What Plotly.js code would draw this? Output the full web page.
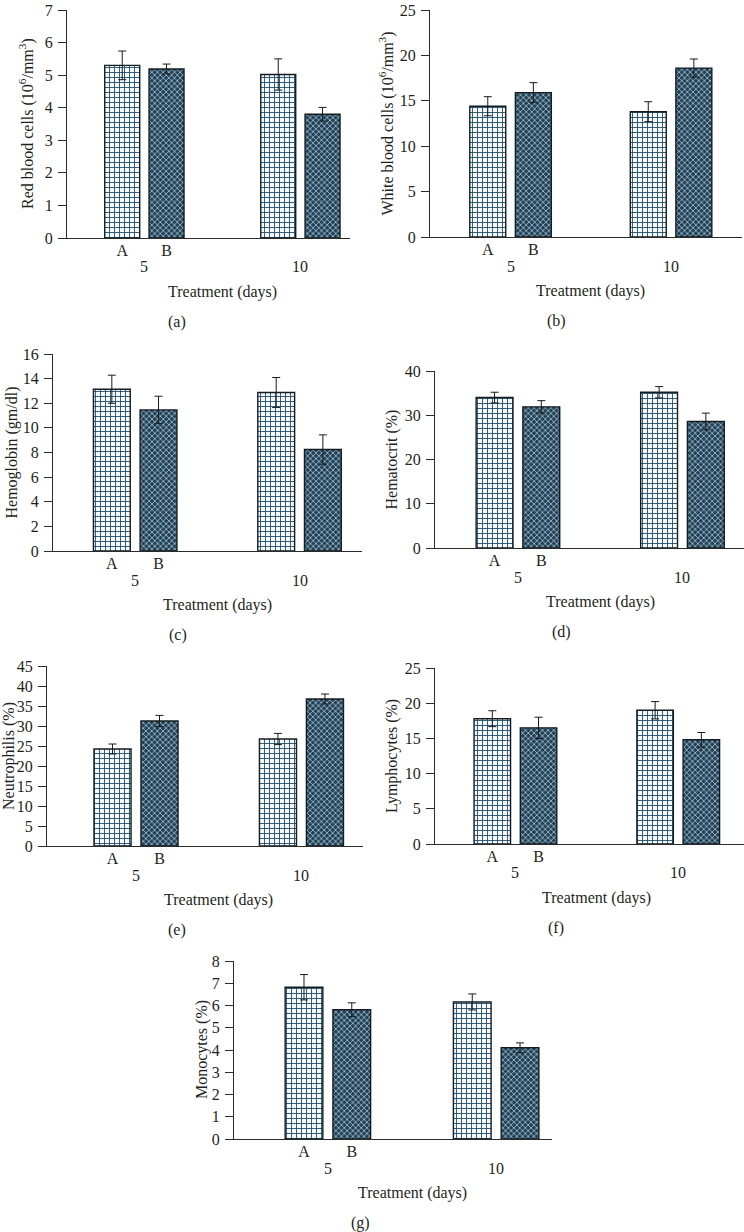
<!DOCTYPE html>
<html><head><meta charset="utf-8">
<script src="https://cdn.plot.ly/plotly-3.0.1.min.js"></script>
<style>html,body{margin:0;padding:0;background:#fff}#chart{width:744px;height:1232px}</style>
</head><body><div id="chart"></div>
<script>
// ---------- data ----------
const days = [5, 10];
const groupLabels = ['A', 'B'];
const dayLabels = ['5', '10'];
const xTitle = 'Treatment (days)';

const rbcA = [5.30, 5.02], rbcAErr = [0.44, 0.48];
const rbcB = [5.19, 3.80], rbcBErr = [0.15, 0.21];
const wbcA = [14.4, 13.8], wbcAErr = [1.05, 1.10];
const wbcB = [15.9, 18.6], wbcBErr = [1.10, 1.00];
const hbA = [13.14, 12.87], hbAErr = [1.14, 1.22];
const hbB = [11.46, 8.24], hbBErr = [1.11, 1.19];
const hctA = [34.0, 35.2], hctAErr = [1.20, 1.28];
const hctB = [31.9, 28.6], hctBErr = [1.40, 1.88];
const neutA = [24.25, 26.75], neutAErr = [1.25, 1.40];
const neutB = [31.25, 36.75], neutBErr = [1.40, 1.25];
const lymA = [17.8, 19.0], lymAErr = [1.13, 1.23];
const lymB = [16.5, 14.8], lymBErr = [1.51, 1.04];
const monoA = [6.82, 6.16], monoAErr = [0.57, 0.36];
const monoB = [5.81, 4.10], monoBErr = [0.31, 0.22];

const yTitles = [
  'Red blood cells (10<sup>6</sup>/mm<sup>3</sup>)',
  'White blood cells (10<sup>6</sup>/mm<sup>3</sup>)',
  'Hemoglobin (gm/dl)',
  'Hematocrit (%)',
  'Neutrophilis (%)',
  'Lymphocytes (%)',
  'Monocytes (%)'
];
const panelLetters = ['(a)', '(b)', '(c)', '(d)', '(e)', '(f)', '(g)'];
const yMax = [7, 25, 16, 40, 45, 25, 8];
const yDtick = [1, 5, 2, 10, 5, 5, 1];

const seriesA = [rbcA, wbcA, hbA, hctA, neutA, lymA, monoA];
const seriesAErr = [rbcAErr, wbcAErr, hbAErr, hctAErr, neutAErr, lymAErr, monoAErr];
const seriesB = [rbcB, wbcB, hbB, hctB, neutB, lymB, monoB];
const seriesBErr = [rbcBErr, wbcBErr, hbBErr, hctBErr, neutBErr, lymBErr, monoBErr];

// ---------- layout geometry (pixels) ----------
const W = 744, H = 1232;
const geom = [
  {x0: 67,  x1: 350, yb: 238,  yt: 10,  xr: [2.52, 11.59], titleX: 26,  letterX: 177},
  {x0: 430, x1: 742, yb: 237,  yt: 10,  xr: [2.49, 12.21], titleX: 387, letterX: 556},
  {x0: 53,  x1: 362, yb: 551,  yt: 354, xr: [2.50, 11.90], titleX: 11,  letterX: 178},
  {x0: 435, x1: 744, yb: 548,  yt: 371, xr: [2.48, 11.87], titleX: 391, letterX: 561},
  {x0: 47,  x1: 363, yb: 846,  yt: 666, xr: [2.31, 11.86], titleX: 9,   letterX: 177},
  {x0: 435, x1: 744, yb: 844,  yt: 668, xr: [2.53, 12.02], titleX: 392, letterX: 556},
  {x0: 234, x1: 552, yb: 1139, yt: 961, xr: [2.21, 11.66], titleX: 202, letterX: 360}
];
const BAR_D = 0.71, BAR_W = 1.12;
const FONT = 'Liberation Serif, DejaVu Serif, serif';
const FS = 16;
const TXT = '#231f20';
const AX = '#2b2b2b';

const patA = {shape: '+', fgcolor: '#1c4a66', bgcolor: '#f6f9fb', size: 5, solidity: 0.32};
const patB = {shape: 'x', fgcolor: '#b3c7d4', bgcolor: '#1f4258', size: 4, solidity: 0.35};

const data = [];
const layout = {
  width: W, height: H,
  margin: {l: 0, r: 0, t: 0, b: 0},
  paper_bgcolor: '#fff', plot_bgcolor: 'rgba(0,0,0,0)',
  showlegend: false,
  barmode: 'overlay',
  font: {family: FONT, size: FS, color: TXT},
  annotations: []
};

geom.forEach((g, i) => {
  const n = i === 0 ? '' : String(i + 1);
  const xa = 'x' + n, ya = 'y' + n;
  const errStyle = {type: 'data', visible: true, color: '#1a1a1a', thickness: 1, width: 4};
  data.push({
    type: 'bar', x: days, y: seriesA[i], xaxis: xa, yaxis: ya, name: groupLabels[0],
    width: BAR_W, offset: -BAR_D - BAR_W / 2,
    marker: {color: '#ffffff', line: {color: '#141c22', width: 1.4}, pattern: patA},
    error_y: Object.assign({array: seriesAErr[i]}, errStyle),
    hoverinfo: 'y'
  });
  data.push({
    type: 'bar', x: days, y: seriesB[i], xaxis: xa, yaxis: ya, name: groupLabels[1],
    width: BAR_W, offset: BAR_D - BAR_W / 2,
    marker: {color: '#2f5468', line: {color: '#141c22', width: 1.4}, pattern: patB},
    error_y: Object.assign({array: seriesBErr[i]}, errStyle),
    hoverinfo: 'y'
  });
  layout['xaxis' + n] = {
    domain: [g.x0 / W, g.x1 / W], anchor: ya, range: g.xr,
    showline: true, linecolor: AX, linewidth: 1,
    showgrid: false, zeroline: false, ticks: '',
    tickvals: [days[0] - BAR_D, days[0] + BAR_D], ticktext: groupLabels,
    tickfont: {family: FONT, size: FS, color: TXT}, ticklabelstandoff: -2,
    ticklabeloverflow: 'allow',
    fixedrange: true
  };
  layout['yaxis' + n] = {
    domain: [1 - g.yb / H, 1 - g.yt / H], anchor: xa, range: [0, yMax[i]],
    dtick: yDtick[i], tick0: 0,
    showline: true, linecolor: AX, linewidth: 1,
    ticks: 'outside', ticklen: 8, tickwidth: 1, tickcolor: AX,
    showgrid: false, zeroline: false,
    tickfont: {family: FONT, size: FS, color: TXT}, ticklabelstandoff: 2,
    ticklabeloverflow: 'allow',
    fixedrange: true
  };
  const ydom = ya + ' domain';
  days.forEach((d, k) => {
    layout.annotations.push({
      x: d, xref: xa, y: 0, yref: ydom, yanchor: 'middle', yshift: -29,
      text: dayLabels[k], showarrow: false, font: {family: FONT, size: FS, color: TXT}
    });
  });
  layout.annotations.push({
    x: (days[0] + days[1]) / 2, xref: xa, y: 0, yref: ydom, yanchor: 'middle', yshift: -54,
    text: xTitle, showarrow: false, font: {family: FONT, size: FS, color: TXT}
  });
  layout.annotations.push({
    x: g.titleX / W, xref: 'paper', y: 1 - (g.yb + g.yt) / 2 / H, yref: 'paper',
    xanchor: 'center', yanchor: 'middle', textangle: -90,
    text: yTitles[i], showarrow: false, font: {family: FONT, size: FS, color: TXT}
  });
  layout.annotations.push({
    x: g.letterX / W, xref: 'paper', y: 1 - (g.yb + 84) / H, yref: 'paper',
    xanchor: 'center', yanchor: 'middle',
    text: panelLetters[i], showarrow: false, font: {family: FONT, size: FS, color: TXT}
  });
});

Plotly.newPlot('chart', data, layout, {displayModeBar: false, staticPlot: true});
</script>
</body></html>
